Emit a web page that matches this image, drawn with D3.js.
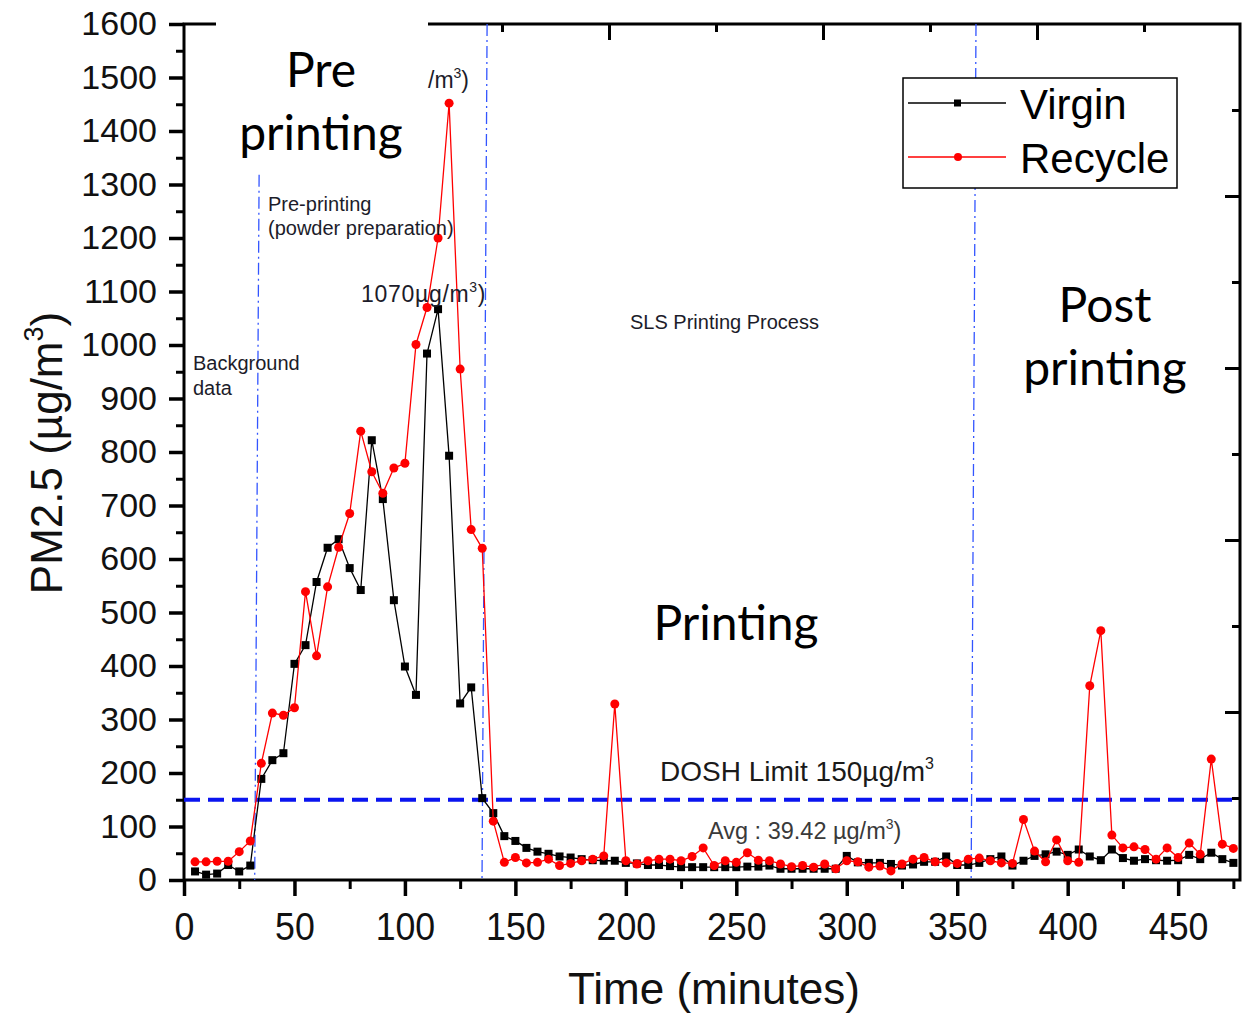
<!DOCTYPE html>
<html>
<head>
<meta charset="utf-8">
<script src="https://cdn.jsdelivr.net/npm/d3@7/dist/d3.min.js"></script>
<style>
	body { margin: 0; background: #fff; }
	svg text { font-family: "Liberation Sans", Arial, sans-serif; }
	.big { font-family: Lato, "Open Sans", sans-serif !important; font-size: 48px; fill: #000; }
	.note { fill: #1c1c2a; }
</style>
</head>
<body>
<div id="canvas"></div>
<script>

// Data (minutes, PM2.5 in ug/m3)
var times = [
	5, 10, 15, 20, 25, 30, 35, 40, 45, 50, 55, 60, 65, 70, 75, 80, 85, 90, 95, 100,
	105, 110, 115, 120, 125, 130, 135, 140, 145, 150, 155, 160, 165, 170, 175, 180, 185, 190, 195, 200,
	205, 210, 215, 220, 225, 230, 235, 240, 245, 250, 255, 260, 265, 270, 275, 280, 285, 290, 295, 300,
	305, 310, 315, 320, 325, 330, 335, 340, 345, 350, 355, 360, 365, 370, 375, 380, 385, 390, 395, 400,
	405, 410, 415, 420, 425, 430, 435, 440, 445, 450, 455, 460, 465, 470, 475
];
var virgin = [
	16, 10, 12, 28, 16, 27, 189, 224, 237, 404, 439, 557, 621, 637, 583, 542, 822, 712, 523, 399,
	346, 984, 1067, 793, 330, 360, 153, 125, 82, 73, 60, 53, 49, 44, 42, 39, 37, 36, 36, 32,
	31, 28, 28, 26, 24, 24, 24, 24, 24, 24, 25, 25, 27, 21, 21, 21, 21, 21, 21, 45,
	33, 32, 32, 30, 27, 29, 34, 34, 44, 28, 28, 32, 39, 44, 27, 36, 45, 48, 53, 47,
	57, 44, 37, 57, 41, 36, 39, 37, 36, 37, 47, 39, 51, 39, 32
];
var recycle = [
	34, 34, 35, 35, 53, 73, 218, 312, 308, 322, 539, 419, 548, 622, 685, 839, 763, 723, 770, 779,
	1001, 1070, 1200, 1452, 955, 655, 620, 110, 33, 42, 32, 33, 39, 27, 31, 36, 39, 45, 329, 36,
	30, 36, 39, 39, 36, 44, 60, 27, 36, 33, 51, 37, 36, 30, 25, 27, 24, 30, 21, 36,
	34, 24, 26, 17, 30, 39, 42, 34, 32, 31, 39, 41, 36, 32, 31, 113, 54, 34, 75, 36,
	33, 363, 466, 84, 60, 62, 57, 39, 60, 42, 69, 48, 226, 67, 59
];
var seriesNames = ['Virgin', 'Recycle'];
var seriesColors = ['#000000', '#ff0000'];
var xTicks = [0, 50, 100, 150, 200, 250, 300, 350, 400, 450];
var xMinorTicks = [25, 75, 125, 175, 225, 275, 325, 375, 425, 475];
var yTicks = [0, 100, 200, 300, 400, 500, 600, 700, 800, 900, 1000, 1100, 1200, 1300, 1400, 1500, 1600];
var yMinorTicks = [50, 150, 250, 350, 450, 550, 650, 750, 850, 950, 1050, 1150, 1250, 1350, 1450, 1550];
var doshLimit = 150;
// phase boundaries: [time at top, value at top, time at bottom]
var phaseLines = [
	[34, 1318, 32],
	[137.2, 1600, 134.9],
	[358.5, 1600, 356.3]
];

document.addEventListener('DOMContentLoaded', function() {

	var margin = { top: 24, left: 184, right: 13, bottom: 136 },
		outerWidth = 1253,
		outerHeight = 1016,
		width = outerWidth - margin.left - margin.right,
		height = outerHeight - margin.top - margin.bottom;

	var svg = d3.select('#canvas').append('svg')
		.attr('width', outerWidth)
		.attr('height', outerHeight);

	var x = d3.scaleLinear().domain([0, 478]).range([0, width]),
		y = d3.scaleLinear().domain([0, 1600]).range([height, 0]);

	// secondary frame ticks (top & right edges of the original frame)
	var xTop = d3.scaleLinear().domain([0, 500]).range([-3, 1067]),
		yRight = d3.scaleLinear().domain([0, 1000]).range([height + 4, 0]);

	var g = svg.append('g')
		.attr('transform', 'translate(' + margin.left + ',' + margin.top + ')');

	var tickStyle = function(sel, w) {
		sel.select('.domain').remove();
		sel.selectAll('line').attr('stroke', '#000').attr('stroke-width', w);
	};

	// Left axis
	g.append('g').call(d3.axisLeft(y).tickValues(yMinorTicks).tickSize(8).tickFormat(''))
		.call(tickStyle, 3);
	var gy = g.append('g').call(d3.axisLeft(y).tickValues(yTicks).tickSize(15).tickPadding(12)
			.tickFormat(d3.format('d')))
		.call(tickStyle, 3.5);
	gy.selectAll('text').attr('font-size', 34).attr('fill', '#111');

	// Bottom axis
	g.append('g').attr('transform', 'translate(0,' + height + ')')
		.call(d3.axisBottom(x).tickValues(xMinorTicks).tickSize(9).tickFormat(''))
		.call(tickStyle, 3);
	var gx = g.append('g').attr('transform', 'translate(0,' + height + ')')
		.call(d3.axisBottom(x).tickValues(xTicks).tickSize(16).tickPadding(17))
		.call(tickStyle, 3.5);
	gx.selectAll('text').attr('font-size', 38).attr('fill', '#111')
		.attr('transform', 'scale(0.94,1)');

	// Top edge ticks (inward)
	var topVals = d3.range(0, 501, 50).filter(function(v) {
		return xTop(v) > 2 && xTop(v) < width - 2;
	});
	g.append('g').call(d3.axisBottom(xTop).tickValues(topVals).tickFormat('')
		.tickSize(0))
		.call(tickStyle, 3)
		.selectAll('.tick line')
		.attr('y2', function(d) { return d % 100 === 0 ? 16 : 8; });

	// Right edge ticks (inward)
	var rightVals = d3.range(100, 1000, 100);
	g.append('g').attr('transform', 'translate(' + width + ',0)')
		.call(d3.axisLeft(yRight).tickValues(rightVals).tickFormat('').tickSize(0))
		.call(tickStyle, 3)
		.selectAll('.tick line')
		.attr('x2', function(d) { return d % 200 === 0 ? -15 : -8; });

	// Frame
	g.append('rect')
		.attr('x', 0).attr('y', 0)
		.attr('width', width).attr('height', height)
		.attr('fill', 'none').attr('stroke', '#000').attr('stroke-width', 3);

	// Phase boundary lines
	g.selectAll('.phase').data(phaseLines).enter().append('line')
		.attr('class', 'phase')
		.attr('x1', function(d) { return x(d[0]); })
		.attr('y1', function(d) { return y(d[1]); })
		.attr('x2', function(d) { return x(d[2]); })
		.attr('y2', y(0))
		.attr('stroke', '#3355ff')
		.attr('stroke-width', 1.3)
		.attr('stroke-dasharray', '12,4,2,4');

	// DOSH limit line
	g.append('line')
		.attr('x1', 0).attr('x2', width)
		.attr('y1', y(doshLimit)).attr('y2', y(doshLimit))
		.attr('stroke', '#0a14f0')
		.attr('stroke-width', 4)
		.attr('stroke-dasharray', '16,8');

	// Series
	var series = [virgin, recycle].map(function(vals, i) {
		return {
			name: seriesNames[i],
			color: seriesColors[i],
			values: vals.map(function(v, j) { return { t: times[j], v: v }; })
		};
	});

	var line = d3.line()
		.x(function(d) { return x(d.t); })
		.y(function(d) { return y(d.v); });

	var gSeries = g.selectAll('.series').data(series).enter().append('g')
		.attr('class', 'series');

	gSeries.append('path')
		.attr('d', function(d) { return line(d.values); })
		.attr('fill', 'none')
		.attr('stroke', function(d) { return d.color; })
		.attr('stroke-width', 1.3);

	// markers
	gSeries.each(function(s, i) {
		var sel = d3.select(this).selectAll('.m').data(s.values).enter();
		if (i === 0) {
			sel.append('rect')
				.attr('x', function(d) { return x(d.t) - 4; })
				.attr('y', function(d) { return y(d.v) - 4; })
				.attr('width', 8).attr('height', 8)
				.attr('fill', s.color);
		} else {
			sel.append('circle')
				.attr('cx', function(d) { return x(d.t); })
				.attr('cy', function(d) { return y(d.v); })
				.attr('r', 4.5)
				.attr('fill', s.color);
		}
	});

	// Small annotations
	var notes = [
		['Pre-printing', 268, 211],
		['(powder preparation)', 268, 235],
		['Background', 193, 370],
		['data', 193, 395],
		['SLS Printing Process', 630, 329]
	];
	svg.selectAll('.note').data(notes).enter().append('text')
		.attr('class', 'note')
		.attr('x', function(d) { return d[1]; })
		.attr('y', function(d) { return d[2]; })
		.attr('font-size', 20)
		.text(function(d) { return d[0]; });

	var peakNote = svg.append('text').attr('class', 'note')
		.attr('x', 361).attr('y', 302).attr('font-size', 23)
		.attr('letter-spacing', 0.7);
	peakNote.append('tspan').text('1070\u00b5g/m');
	peakNote.append('tspan').attr('font-size', 14).attr('dy', -10).text('3');
	peakNote.append('tspan').attr('dy', 10).text(')');

	// White box behind the big "Pre printing" label (hides the top frame)
	svg.append('rect')
		.attr('x', 216).attr('y', 14).attr('width', 212).attr('height', 156)
		.attr('fill', '#fff');

	// peak label, partly hidden by the box in the original
	var peakNote2 = svg.append('text').attr('class', 'note')
		.attr('x', 428).attr('y', 88).attr('font-size', 23);
	peakNote2.append('tspan').text('/m');
	peakNote2.append('tspan').attr('font-size', 14).attr('dy', -10).text('3');
	peakNote2.append('tspan').attr('dy', 10).text(')');

	var dosh = svg.append('text').attr('x', 660).attr('y', 781)
		.attr('font-size', 28).attr('fill', '#1a1a1a');
	dosh.append('tspan').text('DOSH Limit 150\u00b5g/m');
	dosh.append('tspan').attr('font-size', 16).attr('dy', -12).text('3');

	var avg = svg.append('text').attr('x', 708).attr('y', 839)
		.attr('font-size', 23.5).attr('fill', '#3a3a3a');
	avg.append('tspan').text('Avg : 39.42 \u00b5g/m');
	avg.append('tspan').attr('font-size', 14).attr('dy', -10).text('3');
	avg.append('tspan').attr('dy', 10).text(')');

	// Big phase labels
	var bigLabels = [
		['Pre', 321, 87],
		['printing', 321, 150],
		['Printing', 736, 640],
		['Post', 1105, 322],
		['printing', 1105, 385]
	];
	svg.selectAll('.big').data(bigLabels).enter().append('text')
		.attr('class', 'big')
		.attr('x', function(d) { return d[1]; })
		.attr('y', function(d) { return d[2]; })
		.attr('text-anchor', 'middle')
		.text(function(d) { return d[0]; });

	// Legend
	var legend = svg.append('g').attr('transform', 'translate(903,78)');
	legend.append('rect')
		.attr('width', 274).attr('height', 110)
		.attr('fill', '#fff').attr('stroke', '#000').attr('stroke-width', 1.5);
	var items = legend.selectAll('.item').data(series).enter().append('g')
		.attr('class', 'item')
		.attr('transform', function(d, i) { return 'translate(0,' + (25 + i * 54) + ')'; });
	items.append('line')
		.attr('x1', 5).attr('x2', 103)
		.attr('stroke', function(d) { return d.color; })
		.attr('stroke-width', 1.3);
	items.each(function(d, i) {
		if (i === 0) {
			d3.select(this).append('rect').attr('x', 51).attr('y', -3.5)
				.attr('width', 7).attr('height', 7).attr('fill', d.color);
		} else {
			d3.select(this).append('circle').attr('cx', 55).attr('r', 4).attr('fill', d.color);
		}
	});
	items.append('text')
		.attr('x', 117).attr('y', 16)
		.attr('font-size', 42)
		.attr('fill', '#000')
		.text(function(d) { return d.name; });

	// Axis titles
	svg.append('text')
		.attr('x', 714).attr('y', 1004)
		.attr('text-anchor', 'middle')
		.attr('font-size', 44)
		.attr('textLength', 292)
		.attr('lengthAdjust', 'spacingAndGlyphs')
		.attr('fill', '#111')
		.text('Time (minutes)');

	var yTitle = svg.append('text')
		.attr('transform', 'translate(62,453) rotate(-90)')
		.attr('text-anchor', 'middle')
		.attr('font-size', 44)
		.attr('fill', '#111');
	yTitle.append('tspan').text('PM2.5 (\u00b5g/m');
	yTitle.append('tspan').attr('font-size', 27).attr('dy', -19).text('3');
	yTitle.append('tspan').attr('dy', 19).text(')');

});
</script>
</body>
</html>
